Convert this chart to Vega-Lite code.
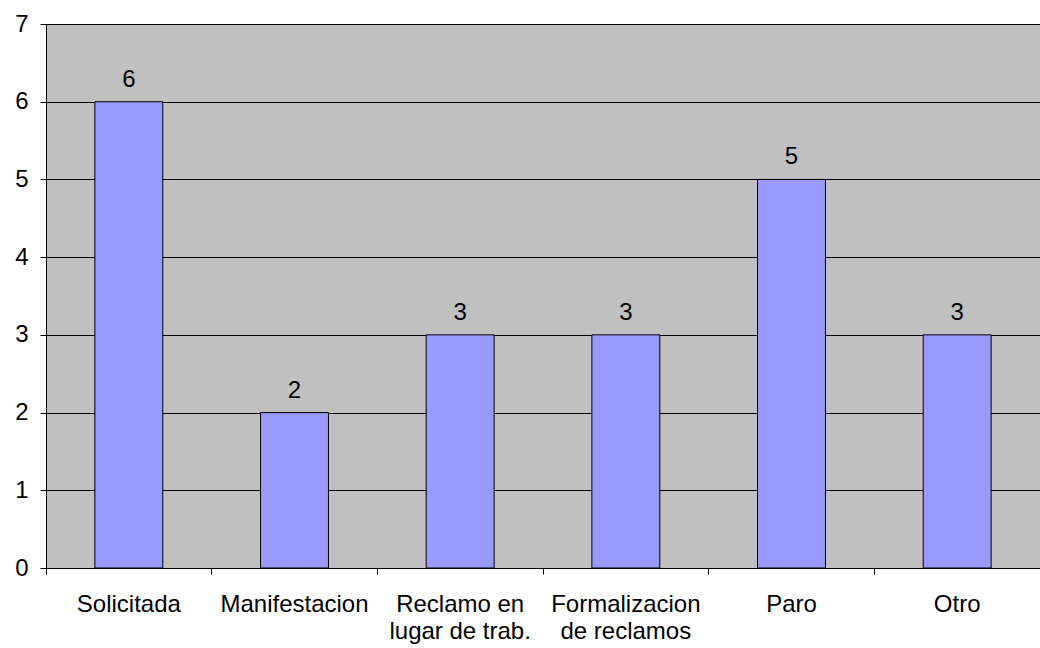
{
  "$schema": "https://vega.github.io/schema/vega-lite/v6.json",
  "width": 994,
  "height": 544,
  "autosize": {"type": "none"},
  "padding": {"left": 46, "top": 24, "right": 0, "bottom": 80},
  "background": "white",
  "config": {
    "view": {"fill": "#C0C0C0", "stroke": null},
    "font": "Liberation Sans"
  },
  "data": {
    "values": [
      {"cat": "Solicitada", "n": 6},
      {"cat": "Manifestacion", "n": 2},
      {"cat": "Reclamo en lugar de trab.", "n": 3},
      {"cat": "Formalizacion de reclamos", "n": 3},
      {"cat": "Paro", "n": 5},
      {"cat": "Otro", "n": 3}
    ]
  },
  "encoding": {
    "x": {
      "field": "cat",
      "type": "nominal",
      "sort": null,
      "scale": {"paddingInner": 0, "paddingOuter": 0},
      "axis": {
        "title": null,
        "labelAngle": 0,
        "bandPosition": 0,
        "domainColor": "black",
        "tickColor": "black",
        "tickSize": 6,
        "labelFontSize": 24,
        "labelColor": "black",
        "labelPadding": 18,
        "labelLineHeight": 27,
        "labelExpr": "split(datum.value === 'Reclamo en lugar de trab.' ? 'Reclamo en|lugar de trab.' : datum.value === 'Formalizacion de reclamos' ? 'Formalizacion|de reclamos' : datum.value, '|')",
        "labelBaseline": "top",
        "labelLimit": 0,
        "labelOverlap": false
      }
    },
    "y": {
      "field": "n",
      "type": "quantitative",
      "scale": {"domain": [0, 7], "nice": false},
      "axis": {
        "title": null,
        "values": [0, 1, 2, 3, 4, 5, 6, 7],
        "grid": true,
        "gridColor": "black",
        "gridOpacity": 1,
        "domainColor": "black",
        "tickColor": "black",
        "tickSize": 6,
        "labelFontSize": 24,
        "labelColor": "black",
        "labelPadding": 12,
        "labelOverlap": false,
        "labelFlush": false
      }
    }
  },
  "layer": [
    {
      "mark": {"type": "bar", "width": {"band": 0.41}, "color": "#9999FF", "stroke": "black", "strokeWidth": 1}
    },
    {
      "mark": {"type": "text", "baseline": "bottom", "dy": -10, "fontSize": 24, "color": "black"},
      "encoding": {"text": {"field": "n", "type": "quantitative"}}
    }
  ]
}
